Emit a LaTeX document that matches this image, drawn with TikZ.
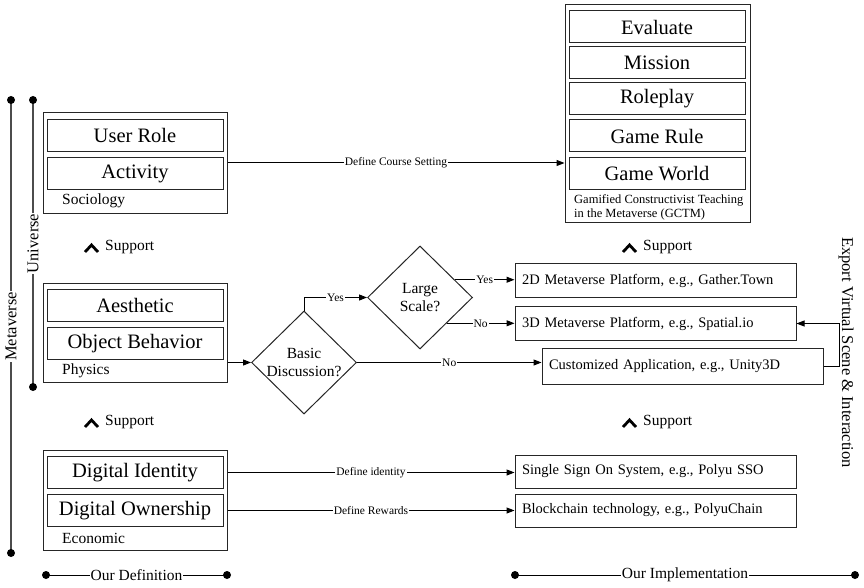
\documentclass[tikz,border=0pt]{standalone}
\usepackage{fontspec}
\setmainfont{Liberation Serif}
\usetikzlibrary{arrows.meta,shapes.geometric}
\newcommand\FBig{\fontsize{20.5}{24}\selectfont}
\newcommand\FMid{\fontsize{15.5}{18}\selectfont}
\newcommand\FImp{\fontsize{14.5}{17}\selectfont}
\newcommand\FRot{\fontsize{16.5}{19}\selectfont}
\newcommand\FSm{\fontsize{11.5}{13}\selectfont}
\newcommand\FCap{\fontsize{12.5}{13.5}\selectfont}
\begin{document}
\begin{tikzpicture}[x=1pt,y=-1pt,
  every node/.style={text=black},
  outerbox/.style={draw=black!85, line width=1pt, minimum width=184pt, minimum height=100pt, inner sep=0},
  inbox/.style={draw=black!85, line width=1pt, minimum width=176pt, minimum height=32pt, inner sep=0, font=\FBig},
  implbox/.style={draw=black!85, line width=1pt, text width=267pt, inner xsep=7pt, inner ysep=0pt, minimum height=34pt, align=left, font=\FImp},
  dia/.style={diamond, draw=black!85, line width=1pt, minimum width=105pt, minimum height=103pt, inner sep=0},
  conn/.style={line width=1pt, -{Triangle[length=8pt,width=6pt]}},
  plain/.style={line width=1pt},
  lbl/.style={fill=white, inner sep=1pt, font=\FSm},
  sublbl/.style={anchor=west, inner sep=0, font=\FMid},
  vline/.style={draw=black!70, line width=1.3pt},
  vlbl/.style={fill=white, inner sep=1pt, font=\FMid},
  rlbl/.style={fill=white, inner sep=1pt, font=\FRot, rotate=90},
  chev/.style={line width=2.8pt, line cap=butt, line join=miter},
]
\useasboundingbox (0,0) rectangle (864,588);

% ---- left: Sociology
\node[outerbox] (soc) at (135,163) {};
\node[inbox] (urole) at (135,135.5) {User Role};
\node[inbox] (activ) at (135,173.5) {Activity};
\node[sublbl] (soclbl) at (62,201) {Sociology};

% ---- left: Physics
\node[outerbox, minimum height=99pt] (phys) at (135,332.5) {};
\node[inbox] (aest) at (135,305.5) {Aesthetic};
\node[inbox] (objb) at (135,343.5) {Object Behavior};
\node[sublbl] (physlbl) at (62,371) {Physics};

% ---- left: Economic
\node[outerbox] (econ) at (135,500) {};
\node[inbox] (dident) at (135,472.5) {Digital Identity};
\node[inbox] (downer) at (135,510.5) {Digital Ownership};
\node[sublbl] (econlbl) at (62,538) {Economic};

% ---- GCTM
\node[draw=black!85, line width=1pt, minimum width=185pt, minimum height=217pt, inner sep=0] (gctm) at (657.5,113.5) {};
\node[inbox] (eval) at (657,27) {Evaluate};
\node[inbox] (miss) at (657,63) {Mission};
\node[inbox] (role) at (657,98.5) {Roleplay};
\node[inbox] (grule) at (657,136) {Game Rule};
\node[inbox] (gworld) at (657,173.5) {Game World};
\node[anchor=west, align=left, font=\FCap, inner sep=0] (gcap) at (574,207.5) {Gamified Constructivist Teaching\\in the Metaverse (GCTM)};

% ---- support marks
\draw[chev] (85,252) -- (91.5,245) -- (98,252);
\node[sublbl] (sup1) at (105,247.5) {Support};
\draw[chev] (85,427) -- (91.5,420) -- (98,427);
\node[sublbl] (sup2) at (105,422.5) {Support};
\draw[chev] (623,252) -- (629.5,245) -- (636,252);
\node[sublbl] (sup3) at (643,247.5) {Support};
\draw[chev] (623,427) -- (629.5,420) -- (636,427);
\node[sublbl] (sup4) at (643,422.5) {Support};

% ---- decision diamonds
\node[dia] (bd) at (304,362.5) {};
\node[align=center, font=\FMid, inner sep=0] (bdt) at (bd) {Basic\\Discussion?};
\node[dia] (ls) at (420,297.5) {};
\node[align=center, font=\FMid, inner sep=0] (lst) at (ls) {Large\\Scale?};

% ---- implementation boxes
\node[implbox] (d2) at (655.5,280.5) {2D Metaverse Platform, e.g., Gather.Town};
\node[implbox] (d3) at (655.5,323.5) {3D Metaverse Platform, e.g., Spatial.io};
\node[implbox, minimum height=36pt] (cust) at (682.5,366.5) {Customized Application, e.g., Unity3D};
\node[implbox, minimum height=33pt] (sso) at (655.5,471.5) {Single Sign On System, e.g., Polyu SSO};
\node[implbox, minimum height=33pt] (bc) at (655.5,510.5) {Blockchain technology, e.g., PolyuChain};

% ---- connectors
\draw[conn] (soc.east) -- node[lbl] {Define Course Setting} (soc.east -| gctm.west);
\draw[conn] (bd.west -| phys.east) -- (bd.west);
\draw[conn] (bd.north) |- node[lbl, pos=0.75] {Yes} (ls.west);
\draw[conn] (bd.east) -- node[lbl] {No} (bd.east -| cust.west);
\draw[conn] (ls.27) -- node[lbl] {Yes} (ls.27 -| d2.west);
\draw[conn] (ls.-44) -- node[lbl] {No} (ls.-44 -| d3.west);
\draw[conn] (cust.east) -- ++(16,0) |- (d3.east);
\draw[conn] (dident.east -| econ.east) -- node[lbl] {Define identity} (dident.east -| sso.west);
\draw[conn] (downer.east -| econ.east) -- node[lbl] {Define Rewards} (downer.east -| bc.west);

\node[rotate=-90, font=\FRot, inner sep=0] (export) at (846,352.5) {Export Virtual Scene \& Interaction};

% ---- left brackets
\coordinate (mt) at (11,100);
\coordinate (mb) at (11,553);
\draw[vline] (mt) -- node[rlbl] (mlbl) {Metaverse} (mb);
\fill (mt) circle (4pt); \fill (mb) circle (4pt);
\coordinate (ut) at (33,100);
\coordinate (ub) at (33,387);
\draw[vline] (ut) -- node[rlbl] (ulbl) {Universe} (ub);
\fill (ut) circle (4pt); \fill (ub) circle (4pt);

% ---- bottom brackets
\coordinate (dl) at (46,575);
\coordinate (dr) at (227,575);
\draw[plain] (dl) -- node[vlbl] (dlbl) {Our Definition} (dr);
\fill (dl) circle (4pt); \fill (dr) circle (4pt);
\coordinate (il) at (515,575);
\coordinate (ir) at (855,575);
\draw[plain] (il) -- node[vlbl] (ilbl) {Our Implementation} (ir);
\fill (il) circle (4pt); \fill (ir) circle (4pt);
\end{tikzpicture}
\end{document}
